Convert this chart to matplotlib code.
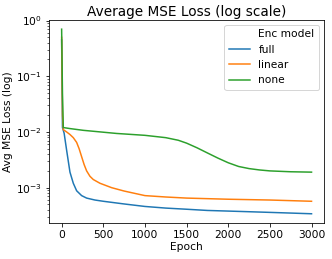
import matplotlib
matplotlib.use("Agg")
import matplotlib.pyplot as plt

# values (epoch, avg MSE loss)
epochs_full = [0, 10, 30, 60, 100, 140, 180, 240, 300, 400, 500, 750, 1000, 1250, 1500, 1750, 2000, 2250, 2500, 2750, 3000]
loss_full = [0.45, 0.012, 0.0095, 0.0047, 0.0019, 0.0012, 0.00088, 0.00072, 0.00065, 0.0006, 0.00057, 0.00051, 0.00046, 0.00043, 0.00041, 0.00039, 0.00038, 0.00037, 0.00036, 0.00035, 0.00034]

epochs_linear = [0, 10, 20, 60, 100, 140, 180, 210, 240, 270, 300, 340, 380, 460, 600, 750, 1000, 1250, 1500, 2000, 2500, 3000]
loss_linear = [0.5, 0.02, 0.011, 0.0100, 0.0090, 0.0079, 0.0065, 0.005, 0.0036, 0.0026, 0.002, 0.0016, 0.0014, 0.0012, 0.001, 0.00087, 0.00072, 0.00068, 0.00065, 0.00062, 0.0006, 0.00057]

epochs_none = [0, 10, 20, 100, 260, 500, 660, 1000, 1250, 1400, 1500, 1625, 1750, 1875, 2000, 2125, 2250, 2375, 2500, 2750, 3000]
loss_none = [0.7, 0.05, 0.012, 0.0115, 0.0107, 0.0099, 0.0094, 0.0087, 0.0079, 0.0071, 0.0063, 0.0052, 0.0042, 0.0034, 0.0028, 0.0024, 0.0022, 0.00208, 0.002, 0.00193, 0.0019]

series = [("full", epochs_full, loss_full, "#1f77b4"),
          ("linear", epochs_linear, loss_linear, "#ff7f0e"),
          ("none", epochs_none, loss_none, "#2ca02c")]

DPI = 72
FS = 10.6
fig = plt.figure(figsize=(332 / DPI, 259 / DPI), dpi=DPI)
ax = fig.add_axes([0.148, 0.139, 0.828, 0.784])

ax.plot([], [], color="none", label="Enc model")
for name, x, y, c in series:
    ax.plot(x, y, color=c, lw=1.5, label=name)

ax.set_yscale("log")
ax.set_title("Average MSE Loss (log scale)", fontsize=13.6, pad=4)
ax.set_xlabel("Epoch", fontsize=FS, labelpad=2)
ax.set_ylabel("Avg MSE Loss (log)", fontsize=FS, labelpad=3)
ax.tick_params(labelsize=FS)
ax.set_xticks([0, 500, 1000, 1500, 2000, 2500, 3000])

ax.legend(fontsize=FS, loc="upper right")

fig.savefig("out.png", dpi=DPI)
